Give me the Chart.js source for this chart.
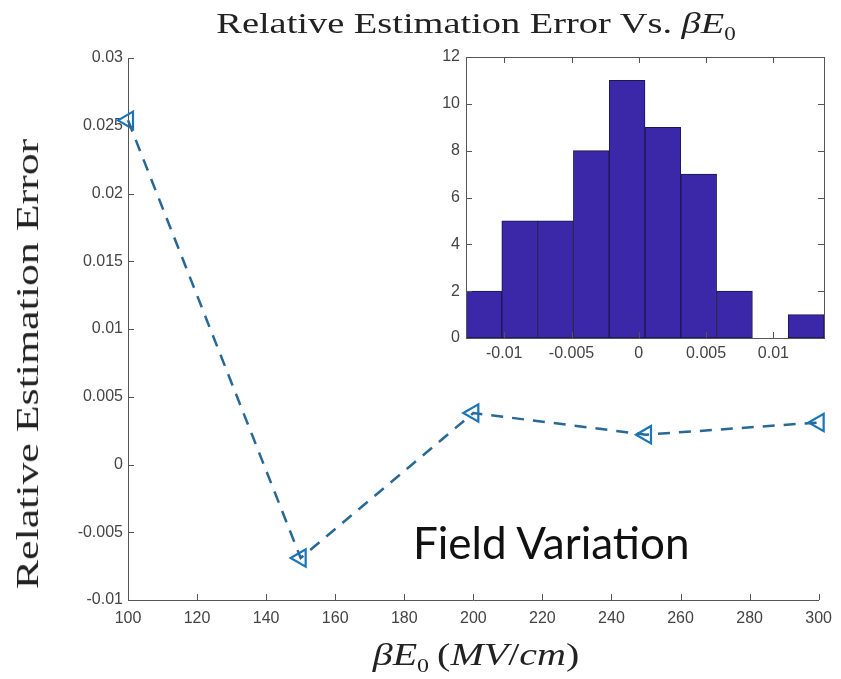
<!DOCTYPE html>
<html>
<head>
<meta charset="utf-8">
<script src="https://cdn.jsdelivr.net/npm/chart.js@4.4.1/dist/chart.umd.min.js"></script>
<style>
  body { margin: 0; background: #fff; }
  #wrap { position: relative; width: 841px; height: 679px; background: #fff; overflow: hidden; }
  #mainChart { position: absolute; left: 0; top: 0; }
  #insetChart { position: absolute; left: 410px; top: 40px; }
  .tex { position: absolute; font-family: "Liberation Serif", "DejaVu Serif", serif; color: #222; white-space: nowrap; line-height: 1; }
  #title { left: 476px; top: 8px; font-size: 30px; transform: translateX(-50%) scaleX(1.28); }
  #yTitle { left: 27px; top: 364px; font-size: 32px; transform: translate(-50%, -50%) rotate(-90deg) scaleX(1.37); }
  #xTitle { left: 476px; top: 638px; font-size: 32px; transform: translateX(-50%) scaleX(1.25); }
  #note { position: absolute; left: 413px; top: 516px; font-family: Lato, "Open Sans", sans-serif; font-size: 44px; color: #111; white-space: nowrap; }
</style>
</head>
<body>
<div id="wrap">
  <canvas id="mainChart" width="841" height="679"></canvas>
  <canvas id="insetChart" width="431" height="330"></canvas>
  <div id="title" class="tex">Relative Estimation Error Vs. <i>&beta;E</i><sub style="font-size:60%">0</sub></div>
  <div id="yTitle" class="tex">Relative Estimation Error</div>
  <div id="xTitle" class="tex"><i>&beta;E</i><sub style="font-size:60%">0</sub>&thinsp;(<i>MV</i>/<i>cm</i>)</div>
  <div id="note">Field Variation</div>
</div>
<script>
// main plot: error vs field
const fieldValues = [100, 150, 200, 250, 300];
const errorValues = [0.0254, -0.0069, 0.0038, 0.0022, 0.0031];

const xTickValues = [100, 120, 140, 160, 180, 200, 220, 240, 260, 280, 300];
const yTickValues = [-0.01, -0.005, 0, 0.005, 0.01, 0.015, 0.02, 0.025, 0.03];

// inset histogram
const binCenters = [-0.01151, -0.00885, -0.00619, -0.00353, -0.00087, 0.00179, 0.00445, 0.00711, 0.00977, 0.01243];
const binCounts = [2, 5, 5, 8, 11, 9, 7, 2, 0, 1];
const histTickValues = [-0.01, -0.005, 0, 0.005, 0.01];
const countTickValues = [0, 2, 4, 6, 8, 10, 12];

const tickColor = '#444';
const tickFont = { family: 'Liberation Sans, Arial, sans-serif', size: 16 };

function fmt(v) {
    return String(parseFloat(Number(v).toFixed(4)));
}

// matlab style ticks pointing into the axes
const inwardTicks = {
    id: 'inwardTicks',
    afterDraw(chart, args, opts) {
        const ctx = chart.ctx;
        const area = chart.chartArea;
        const len = 6;
        ctx.save();
        ctx.strokeStyle = '#555';
        ctx.lineWidth = 1;
        ctx.beginPath();
        const xs = chart.scales.x;
        xs.ticks.forEach(t => {
            const px = Math.round(xs.getPixelForValue(t.value)) + 0.5;
            ctx.moveTo(px, area.bottom);
            ctx.lineTo(px, area.bottom - len);
            if (opts.box) {
                ctx.moveTo(px, area.top);
                ctx.lineTo(px, area.top + len);
            }
        });
        const ys = chart.scales.y;
        ys.ticks.forEach(t => {
            const py = Math.round(ys.getPixelForValue(t.value)) + 0.5;
            ctx.moveTo(area.left, py);
            ctx.lineTo(area.left + len, py);
            if (opts.box) {
                ctx.moveTo(area.right, py);
                ctx.lineTo(area.right - len, py);
            }
        });
        ctx.stroke();
        if (opts.box) {
            ctx.strokeRect(area.left + 0.5, area.top + 0.5, area.right - area.left, area.bottom - area.top);
        }
        ctx.restore();
    }
};

const mainCtx = document.getElementById('mainChart').getContext('2d');
new Chart(mainCtx, {
    type: 'line',
    data: {
        datasets: [{
            data: fieldValues.map((f, i) => ({ x: f, y: errorValues[i] })),
            borderColor: '#276894',
            borderWidth: 2.5,
            borderDash: [12, 9],
            fill: false,
            tension: 0,
            clip: false,
            pointStyle: 'triangle',
            rotation: -90,
            pointRadius: 10,
            pointBorderWidth: 2.2,
            pointBorderColor: '#1a74b8',
            pointBackgroundColor: 'rgba(0,0,0,0)'
        }]
    },
    options: {
        responsive: false,
        animation: false,
        layout: { padding: { left: 0, right: 19, top: 58, bottom: 40 } },
        plugins: {
            legend: { display: false },
            tooltip: { enabled: false },
            inwardTicks: { box: false }
        },
        scales: {
            x: {
                type: 'linear',
                min: 100,
                max: 300,
                afterBuildTicks: s => { s.ticks = xTickValues.map(v => ({ value: v })); },
                afterFit: s => { s.height = 39; },
                grid: { display: false, drawTicks: false },
                border: { display: true, color: '#555', width: 1 },
                ticks: { color: tickColor, font: tickFont, padding: 9, maxRotation: 0, callback: v => fmt(v) }
            },
            y: {
                type: 'linear',
                min: -0.01,
                max: 0.03,
                afterBuildTicks: s => { s.ticks = yTickValues.map(v => ({ value: v })); },
                afterFit: s => { s.width = 128; },
                grid: { display: false, drawTicks: false },
                border: { display: true, color: '#555', width: 1 },
                ticks: { color: tickColor, font: tickFont, padding: 5, callback: v => fmt(v) }
            }
        }
    },
    plugins: [inwardTicks]
});

const insetCtx = document.getElementById('insetChart').getContext('2d');
new Chart(insetCtx, {
    type: 'bar',
    data: {
        datasets: [{
            data: binCenters.map((c, i) => ({ x: c, y: binCounts[i] })),
            backgroundColor: '#3a28a8',
            borderColor: '#1c1650',
            borderWidth: 1,
            borderSkipped: false,
            barPercentage: 1,
            categoryPercentage: 1
        }]
    },
    options: {
        responsive: false,
        animation: false,
        layout: { padding: { left: 10, right: 17, top: 17, bottom: 0 } },
        plugins: {
            legend: { display: false },
            tooltip: { enabled: false },
            inwardTicks: { box: true }
        },
        scales: {
            x: {
                type: 'linear',
                offset: false,
                min: -0.01284,
                max: 0.01376,
                afterBuildTicks: s => { s.ticks = histTickValues.map(v => ({ value: v })); },
                afterFit: s => { s.height = 32; },
                grid: { display: false, drawTicks: false },
                border: { display: false },
                ticks: { color: tickColor, font: tickFont, padding: 6, maxRotation: 0, callback: v => fmt(v) }
            },
            y: {
                type: 'linear',
                min: 0,
                max: 12,
                afterBuildTicks: s => { s.ticks = countTickValues.map(v => ({ value: v })); },
                afterFit: s => { s.width = 46; },
                grid: { display: false, drawTicks: false },
                border: { display: false },
                ticks: { color: tickColor, font: tickFont, padding: 6, callback: v => fmt(v) }
            }
        }
    },
    plugins: [inwardTicks]
});
</script>
</body>
</html>
